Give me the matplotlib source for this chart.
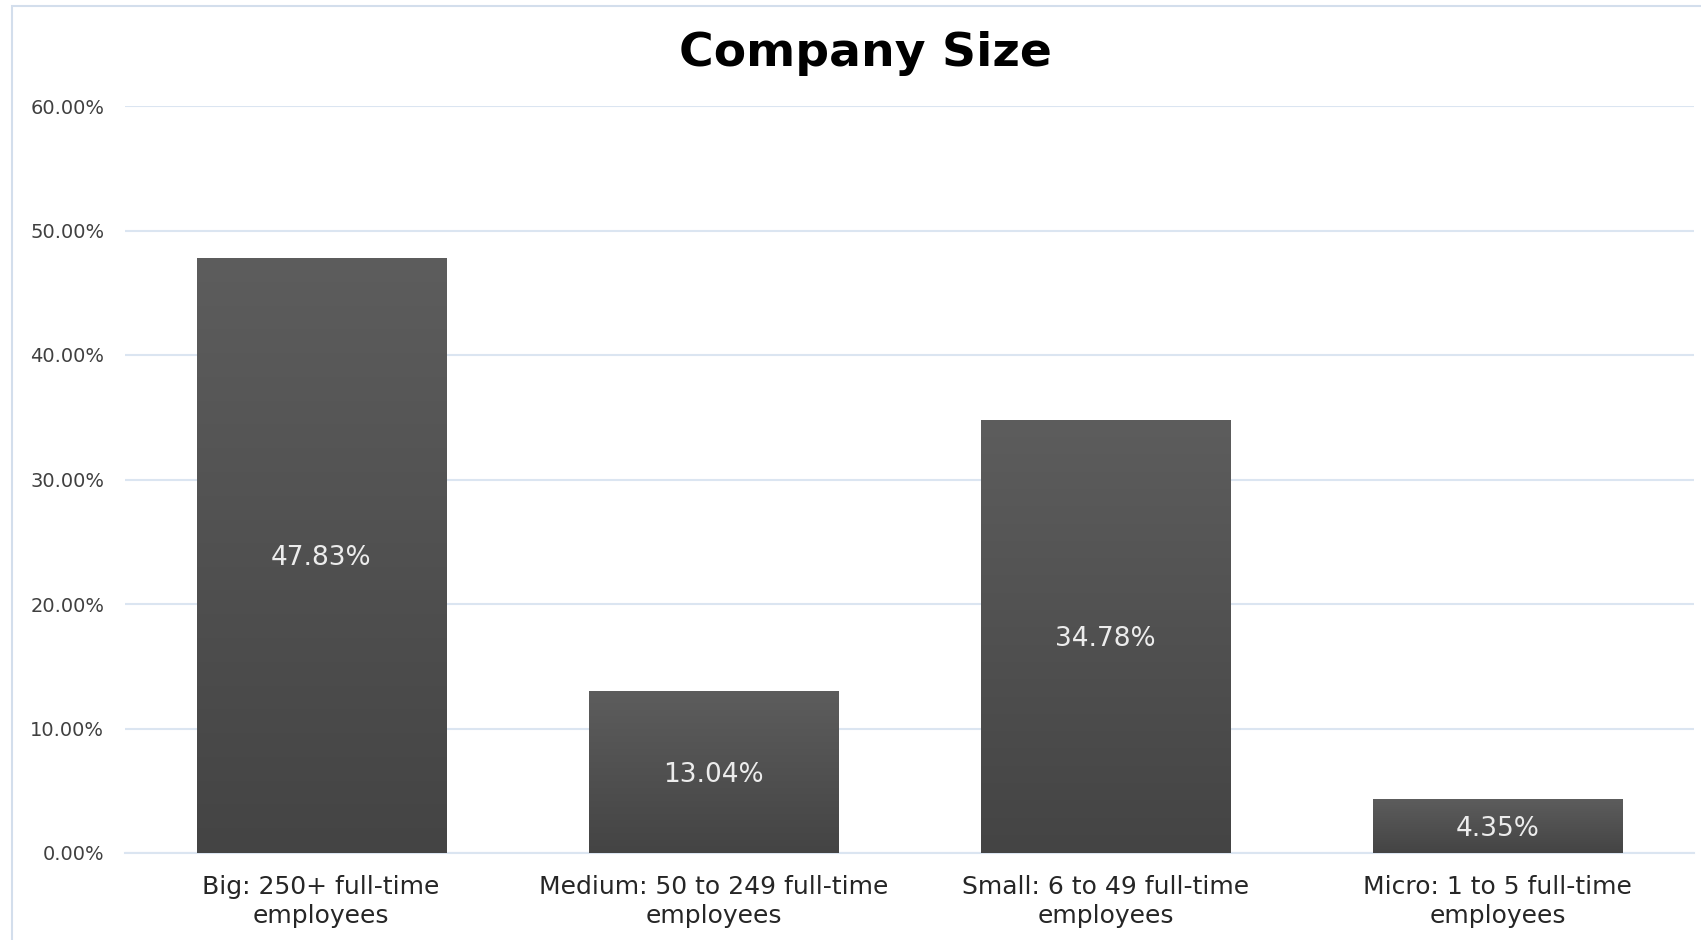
import numpy as np
import matplotlib
matplotlib.use("Agg")
import matplotlib.pyplot as plt
from matplotlib.patches import Rectangle
from matplotlib.ticker import FuncFormatter

# Survey shares by company size
categories = [
    "Big: 250+ full-time\nemployees",
    "Medium: 50 to 249 full-time\nemployees",
    "Small: 6 to 49 full-time\nemployees",
    "Micro: 1 to 5 full-time\nemployees",
]
shares = [0.4783, 0.1304, 0.3478, 0.0435]
y_ticks = [0.0, 0.1, 0.2, 0.3, 0.4, 0.5, 0.6]

W, H = 1701, 940
fig = plt.figure(figsize=(W / 100, H / 100), dpi=100)
plt.rcParams['font.family'] = ['DejaVu Sans']

# chart frame (light blue border, clipped at right/bottom)
fig.patches.append(Rectangle((12 / W, -0.1), 1.2, 1 - 6 / H + 0.1,
                             transform=fig.transFigure, fill=False,
                             edgecolor="#d3deec", linewidth=1.5))

ax = fig.add_axes([125 / W, 1 - 853 / H, (1694 - 125) / W, (853 - 106) / H])
x = np.arange(len(categories))
bars = ax.bar(x, shares, width=0.635, color="#505050",
              edgecolor="#d8d8d8", linewidth=0.4, zorder=2)

# vertical gradient fill on each bar
grad = np.linspace(0, 1, 256).reshape(-1, 1)
cmap = matplotlib.colors.LinearSegmentedColormap.from_list("bar", ["#444444", "#5d5d5d"])
for b in bars:
    x0, w, h = b.get_x(), b.get_width(), b.get_height()
    im = ax.imshow(grad, cmap=cmap, aspect="auto", origin="lower",
                   extent=[x0, x0 + w, 0, h], zorder=3)
    im.set_clip_path(b)

for xi, v in zip(x, shares):
    ax.text(xi, v / 2, f"{v * 100:.2f}%", ha="center", va="center_baseline",
            color="#ececec", fontsize=19, zorder=4)

ax.set_xlim(-0.5, len(categories) - 0.5)
ax.set_ylim(0, 0.6)
ax.set_yticks(y_ticks)
ax.yaxis.set_major_formatter(FuncFormatter(lambda v, _: f"{v * 100:.2f}%"))
ax.grid(axis="y", color="#dbe5f1", linewidth=1.5, zorder=0)
ax.set_axisbelow(True)
ax.set_xticks(x)
ax.set_xticklabels(categories, fontsize=18, color="#262626", linespacing=1.25)
ax.tick_params(axis="y", labelsize=14, labelcolor="#404040", length=0, pad=15)
ax.tick_params(axis="x", length=0, pad=16)
for side in ["top", "right", "left"]:
    ax.spines[side].set_visible(False)
ax.spines["bottom"].set_color("#dbe5f1")
ax.spines["bottom"].set_linewidth(1.5)

fig.text(865 / W, 1 - 53 / H, "Company Size", ha="center", va="center",
         fontsize=34, fontweight="bold", color="black")

fig.savefig("out.png", dpi=100)
